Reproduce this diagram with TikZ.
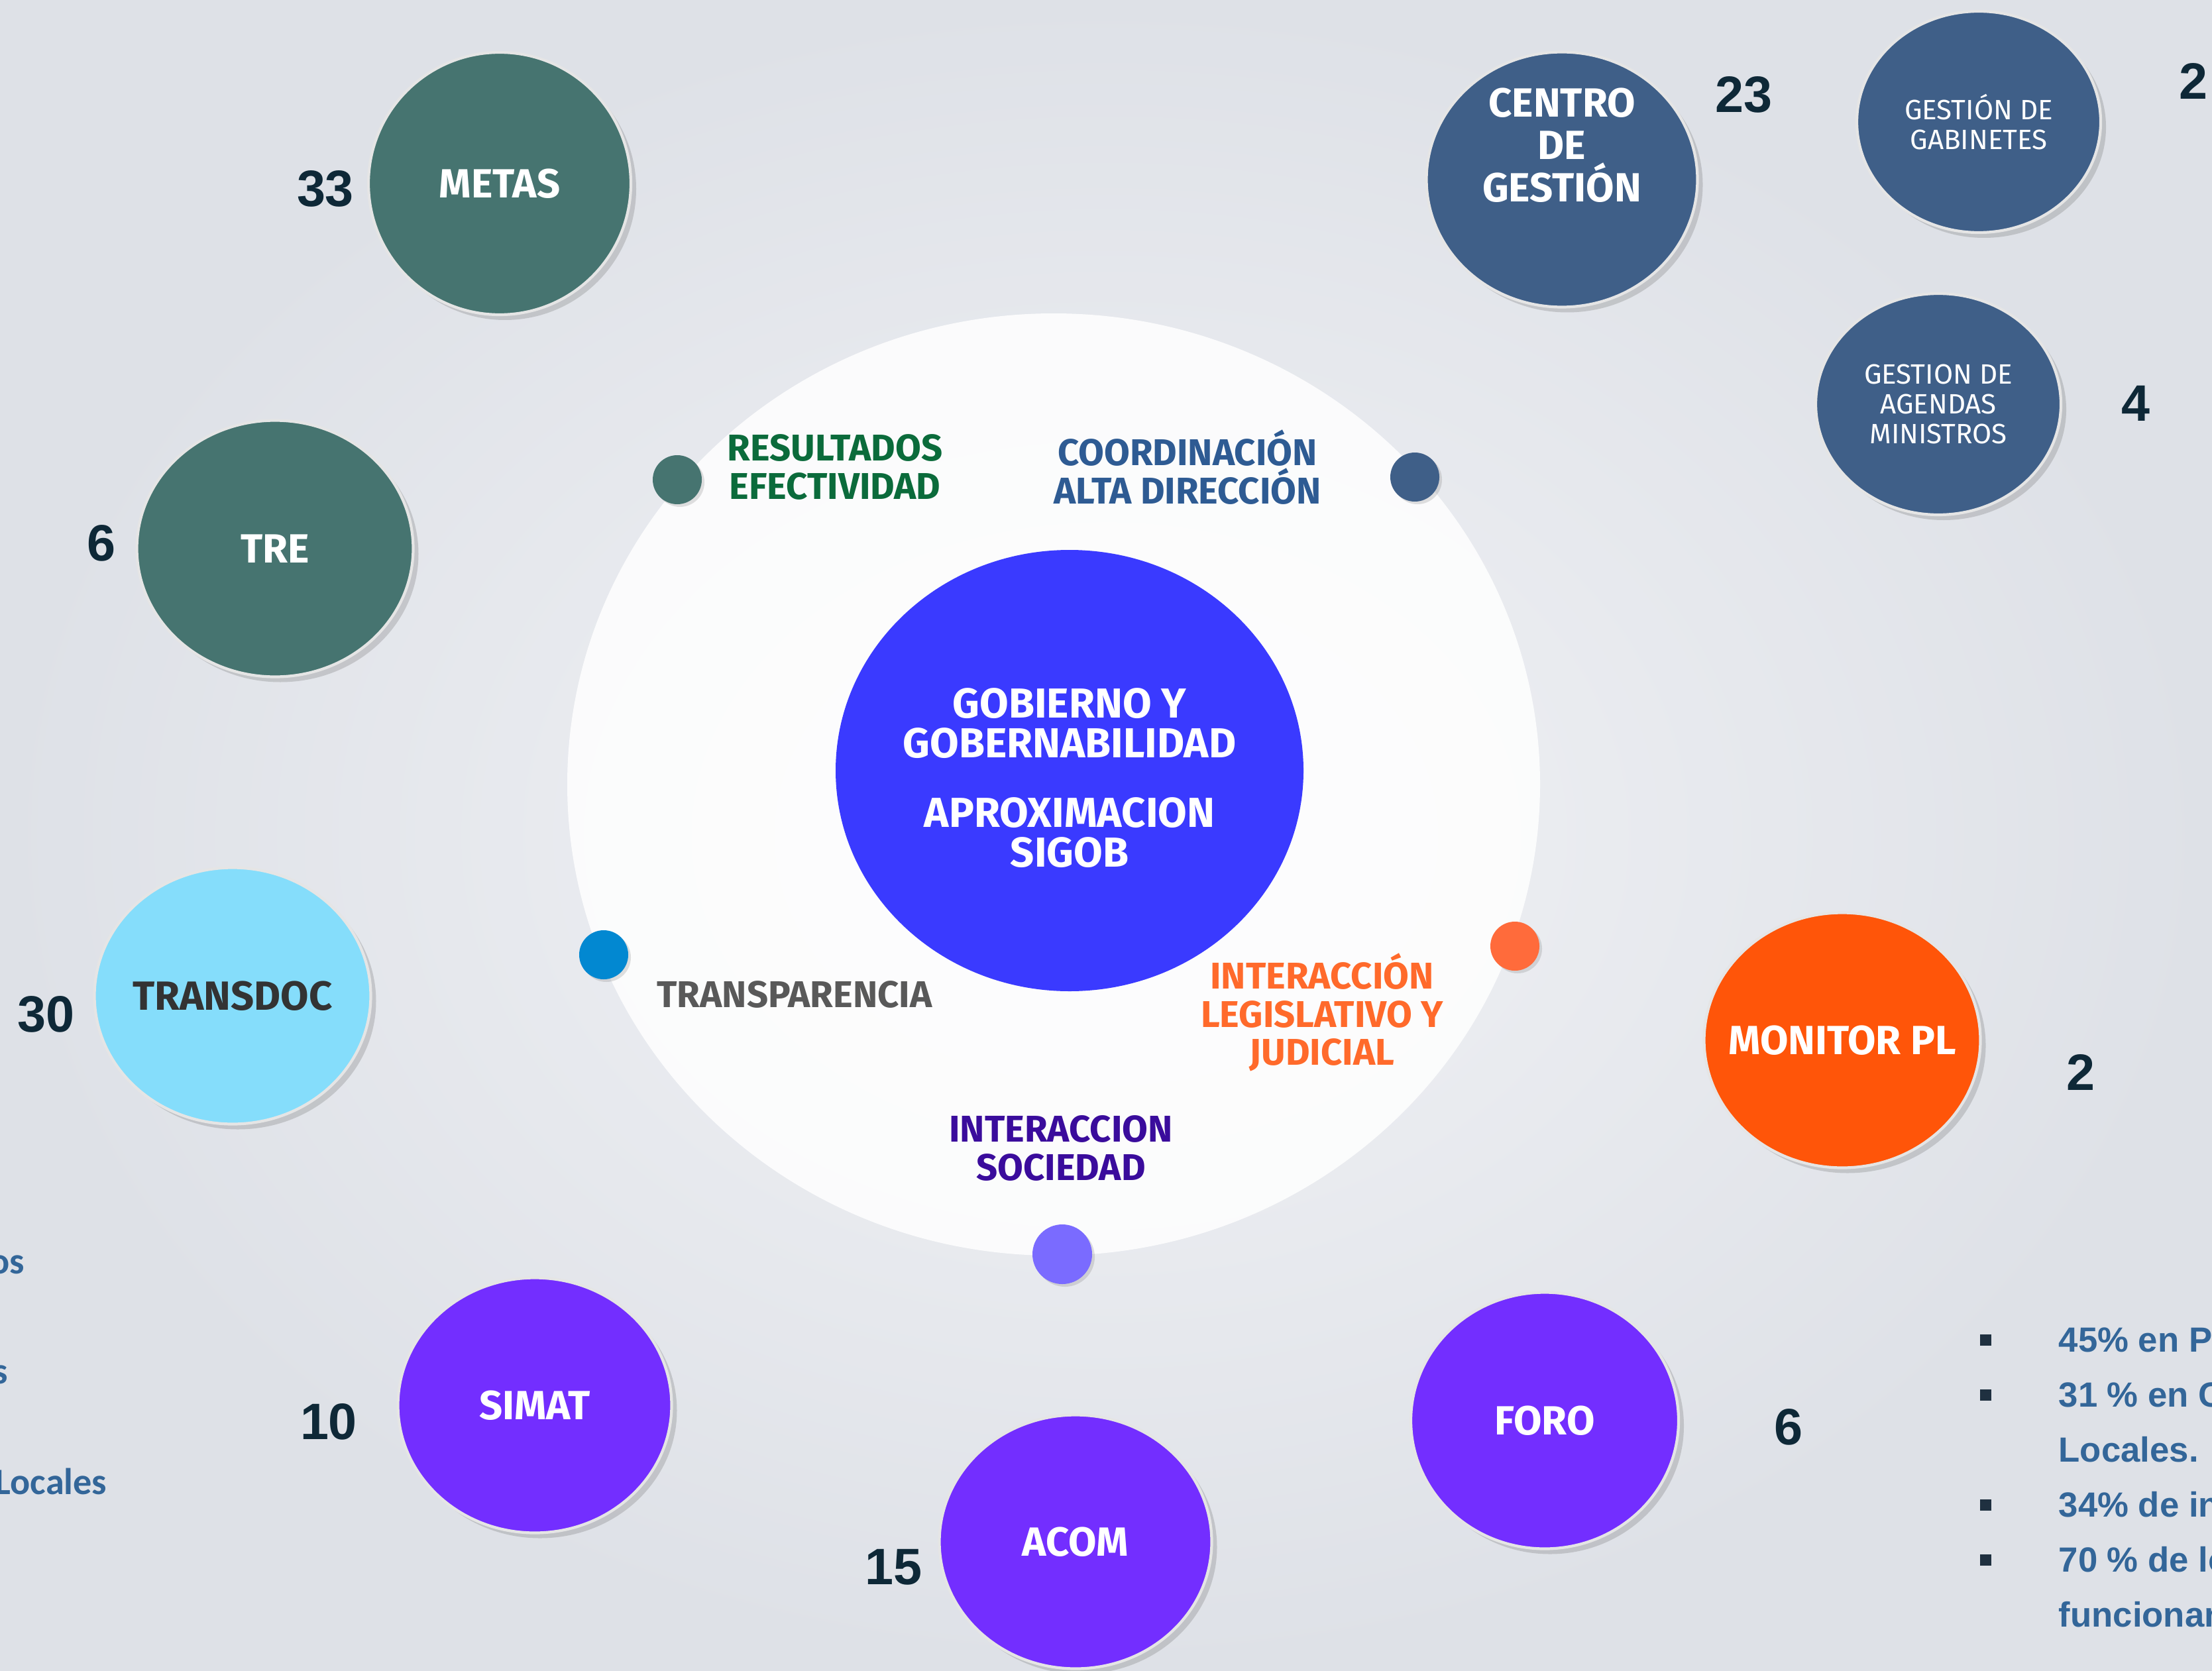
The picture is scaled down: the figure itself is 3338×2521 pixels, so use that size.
\documentclass[tikz,border=0pt]{standalone}
\usepackage{fontspec}
\setmainfont{Fira Sans}
\newfontfamily\numf{Liberation Sans}
\newfontfamily\calf{Carlito}
\usetikzlibrary{shapes.geometric,shadows}
\definecolor{bgin}{RGB}{242,243,246}
\definecolor{bgout}{RGB}{222,225,231}
\definecolor{tealc}{RGB}{70,116,112}
\definecolor{navyc}{RGB}{63,95,136}
\definecolor{lbluec}{RGB}{133,221,251}
\definecolor{monc}{RGB}{255,85,9}
\definecolor{purc}{RGB}{115,46,255}
\definecolor{centc}{RGB}{58,58,255}
\definecolor{greenc}{RGB}{11,107,59}
\definecolor{coordc}{RGB}{46,91,147}
\definecolor{grayc}{RGB}{89,89,89}
\definecolor{orangec}{RGB}{255,106,43}
\definecolor{socc}{RGB}{58,12,156}
\definecolor{dotblue}{RGB}{2,136,209}
\definecolor{dotor}{RGB}{255,107,59}
\definecolor{dotsoc}{RGB}{122,107,255}
\definecolor{numc}{RGB}{14,40,55}
\definecolor{txtblue}{RGB}{51,102,153}
\definecolor{bulc}{RGB}{31,48,64}
\tikzset{
  bub/.style={ellipse, inner ysep=0pt, inner xsep=-6mm, text=white, align=center,
    font=\bfseries\fontsize{17.5}{18.2}\selectfont,
    draw=white!80!gray, line width=1.2pt,
    drop shadow={shadow xshift=0.8mm, shadow yshift=-0.8mm, opacity=0.25, fill=black!60}},
  smallbub/.style={bub, font=\fontsize{12}{12.7}\selectfont},
  dotn/.style={circle, inner sep=0pt, minimum size=7.4mm,
    drop shadow={shadow xshift=0.4mm, shadow yshift=-0.4mm, opacity=0.2, fill=black!60}},
  lab/.style={align=center, inner sep=0pt, font=\bfseries\fontsize{16}{16.3}\selectfont},
  numl/.style={inner sep=0pt, text=numc, font=\numf\bfseries\fontsize{22}{22}\selectfont},
  bull/.style={fill=bulc, minimum size=1.7mm, inner sep=0pt},
  bultxt/.style={anchor=west, inner sep=0pt, text=txtblue, font=\numf\bfseries\fontsize{15}{15}\selectfont},
  lefttxt/.style={anchor=base east, inner sep=0pt, text=txtblue, font=\calf\bfseries\fontsize{16}{16}\selectfont}
}
\begin{document}
\begin{tikzpicture}[x=0.1mm,y=-0.1mm]
\useasboundingbox (0,0) rectangle (3338,2521);
\shade[inner color=bgin, outer color=bgout] (0,0) rectangle (3338,2521);

% big white disc
\node[ellipse, fill=white, fill opacity=0.85, minimum width=146.8mm, minimum height=142.2mm, inner sep=0pt] (ring) at (1590,1184) {};

% centre
\node[ellipse, fill=centc, minimum width=70.6mm, minimum height=66.6mm, inner sep=0pt] (gob) at (1614,1163) {};
\node[inner sep=0pt, text=white, align=center, font=\bfseries\fontsize{18}{17}\selectfont] (gobt) at (1614,1174)
  {GOBIERNO Y\\GOBERNABILIDAD\\[4.5mm]APROXIMACION\\SIGOB};

% dots on the ring
\node[dotn, fill=tealc] (dres) at (1022,724) {};
\node[dotn, fill=navyc] (dcoo) at (2135,720) {};
\node[dotn, fill=dotblue] (dtra) at (911,1441) {};
\node[dotn, fill=dotor] (dleg) at (2286,1428) {};
\node[dotn, fill=dotsoc, minimum size=9mm] (dsoc) at (1603,1893) {};

% ring labels
\node[lab, text=greenc] (lres) at (1260,705) {RESULTADOS\\EFECTIVIDAD};
\node[lab, text=coordc] (lcoo) at (1792,705) {COORDINACIÓN\\ALTA DIRECCIÓN};
\node[lab, text=grayc] (ltra) at (1199,1501) {TRANSPARENCIA};
\node[lab, text=orangec] (lleg) at (1995,1528) {INTERACCIÓN\\LEGISLATIVO Y\\JUDICIAL};
\node[lab, text=socc] (lsoc) at (1601,1733) {INTERACCION\\SOCIEDAD};

% outer bubbles
\node[bub, fill=tealc, minimum width=39.6mm, minimum height=39.6mm] (metas) at (754,277) {METAS};
\node[bub, fill=tealc, minimum width=41.7mm, minimum height=38.7mm] (tre) at (415,828) {TRE};
\node[bub, fill=lbluec, text=black!80, minimum width=41.7mm, minimum height=38.7mm] (transdoc) at (351,1503) {TRANSDOC};
\node[bub, fill=navyc, minimum width=40.9mm, minimum height=38.5mm] (centro) at (2357,271) {};
\node[align=center, inner sep=0pt, text=white, font=\bfseries\fontsize{17.5}{18.2}\selectfont] (centrot) at (2357,219) {CENTRO\\DE\\GESTIÓN};
\node[smallbub, fill=navyc, minimum width=36.8mm, minimum height=33.4mm] (gab) at (2986,184) {GESTIÓN DE\\GABINETES};
\node[smallbub, fill=navyc, minimum width=37mm, minimum height=33.4mm] (age) at (2925,610) {GESTION DE\\AGENDAS\\MINISTROS};
\node[bub, fill=monc, minimum width=41.7mm, minimum height=38.5mm] (mon) at (2780,1570) {MONITOR PL};
\node[bub, fill=purc, minimum width=41.3mm, minimum height=38.5mm] (simat) at (807,2121) {SIMAT};
\node[bub, fill=purc, minimum width=41.1mm, minimum height=38.3mm] (acom) at (1623,2327) {ACOM};
\node[bub, fill=purc, minimum width=40.4mm, minimum height=38.7mm] (foro) at (2331,2144) {FORO};

% numbers
\node[numl] (n33) at (491,285) {33};
\node[numl] (n6a) at (153,820) {6};
\node[numl] (n30) at (70,1531) {30};
\node[numl] (n23) at (2631,143) {23};
\node[numl] (n2a) at (3310,123) {2};
\node[numl] (n4) at (3223,609) {4};
\node[numl] (n2b) at (3140,1618) {2};
\node[numl] (n10) at (496,2146) {10};
\node[numl] (n15) at (1348,2365) {15};
\node[numl] (n6b) at (2699,2154) {6};

% left clipped text
\node[lefttxt] (tos) at (38,1922) {os};
\node[lefttxt] (ts) at (13,2088) {s};
\node[lefttxt] (tloc) at (162,2255) {Locales};

% bullets right
\node[bull] (b1) at (2996,2022) {};
\node[bull] (b2) at (2996,2105) {};
\node[bull] (b3) at (2996,2271) {};
\node[bull] (b4) at (2996,2354) {};
\node[bultxt] (t1) at (3106,2022) {45\% en P};
\node[bultxt] (t2) at (3106,2105) {31 \% en C};
\node[bultxt] (t3) at (3106,2188) {Locales.};
\node[bultxt] (t4) at (3106,2271) {34\% de in};
\node[bultxt] (t5) at (3106,2354) {70 \% de lo};
\node[bultxt] (t6) at (3106,2437) {funcionan};
\end{tikzpicture}
\end{document}
